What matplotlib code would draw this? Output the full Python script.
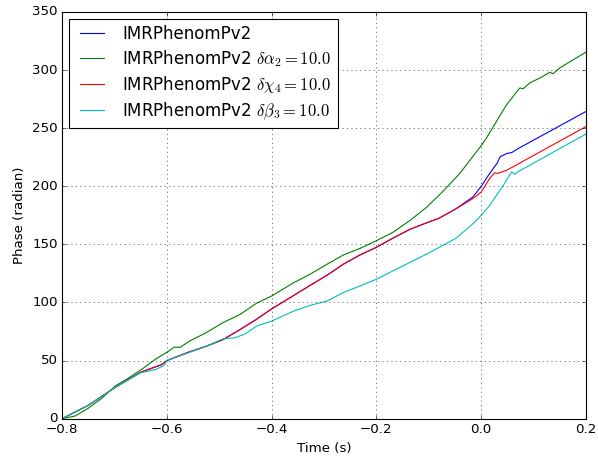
import matplotlib
matplotlib.use('Agg')
import matplotlib.pyplot as plt

# phase curves (time in s, phase in radian)
t_base = [-0.8, -0.75, -0.7, -0.65, -0.61, -0.6, -0.56, -0.525, -0.493, -0.46, -0.429,
          -0.4, -0.358, -0.326, -0.294, -0.263, -0.231, -0.2, -0.168, -0.136, -0.104,
          -0.08, -0.048, -0.016, 0.0, 0.016, 0.03, 0.036, 0.049, 0.058, 0.071, 0.2]
phase_base = [0, 11.5, 26.5, 40, 46.5, 50, 57, 62.3, 68, 76.8, 85.5,
              94.5, 106, 114.9, 123.5, 133, 141, 147.5, 155.5, 163, 168.6,
              172.6, 180.7, 190.8, 200, 211, 219.6, 225.4, 228.3, 229, 232.6, 264.4]

t_chi4 = [-0.8, -0.75, -0.7, -0.65, -0.61, -0.6, -0.56, -0.525, -0.493, -0.46, -0.429,
          -0.4, -0.358, -0.326, -0.294, -0.263, -0.231, -0.2, -0.168, -0.136, -0.104,
          -0.08, -0.048, -0.016, 0.0, 0.016, 0.0255, 0.032, 0.049, 0.2]
phase_chi4 = [0, 11.5, 26.5, 40, 46.5, 50, 57, 62.3, 68, 76.8, 85.5,
              94.5, 106, 114.9, 123.5, 133, 141, 147.5, 155.5, 163, 168.6,
              172.6, 180.7, 189.4, 195.1, 206.7, 211.6, 211.1, 213.9, 251.4]

t_alpha2 = [-0.8, -0.775, -0.75, -0.724, -0.698, -0.673, -0.647, -0.621, -0.6, -0.586,
            -0.574, -0.557, -0.525, -0.493, -0.46, -0.429, -0.4, -0.358, -0.326, -0.294,
            -0.263, -0.231, -0.2, -0.168, -0.136, -0.104, -0.073, -0.041, 0.0, 0.0096,
            0.048, 0.0735, 0.08, 0.0925, 0.112, 0.131, 0.137, 0.15, 0.176, 0.2]
phase_alpha2 = [0, 2.3, 9, 17.6, 28.3, 35, 42.8, 51.4, 57.1, 61.5,
                61.5, 66.7, 74, 82.6, 89.8, 99.3, 105.6, 117, 124.5, 133,
                140.9, 146.6, 153.2, 160.5, 170.6, 182, 195.7, 211, 235, 241.3,
                270, 284.6, 284, 288.9, 293.2, 298.2, 296.8, 301.9, 309, 315.5]

t_beta3 = [-0.8, -0.75, -0.7, -0.65, -0.62, -0.605, -0.6, -0.557, -0.525, -0.493, -0.47,
           -0.45, -0.429, -0.4, -0.358, -0.326, -0.294, -0.263, -0.231, -0.2, -0.168,
           -0.136, -0.104, -0.08, -0.048, -0.016, 0.0, 0.016, 0.042, 0.058, 0.064, 0.072, 0.2]
phase_beta3 = [0, 11.5, 26.5, 39.5, 42.5, 46, 50, 57, 62.3, 68.7, 69.7,
               73, 79.7, 84, 92.6, 97.6, 101.3, 108.6, 114.3, 120, 127.3,
               134.5, 141.7, 147.5, 155.3, 167.7, 175, 183.5, 200.8, 212.5, 210.5, 213, 245]

plt.style.use('classic')
plt.rcParams['mathtext.fontset'] = 'cm'

fig = plt.figure(figsize=(598 / 80, 459 / 80), dpi=80, facecolor='white')
ax = fig.add_subplot(111)
fig.subplots_adjust(left=0.1037, right=0.980, bottom=0.0878, top=0.9739)

ax.plot(t_base, phase_base, 'b', label='IMRPhenomPv2')
ax.plot(t_alpha2, phase_alpha2, 'g', label=r'IMRPhenomPv2 $\delta\alpha_2 = 10.0$')
ax.plot(t_chi4, phase_chi4, 'r', label=r'IMRPhenomPv2 $\delta\chi_4 = 10.0$')
ax.plot(t_beta3, phase_beta3, 'c', label=r'IMRPhenomPv2 $\delta\beta_3 = 10.0$')

ax.set_xlim(-0.8, 0.2)
ax.set_ylim(0, 350)
ax.set_xlabel('Time (s)')
ax.set_ylabel('Phase (radian)')
ax.grid(True)
ax.legend(loc='upper left', fontsize=15, labelspacing=0.3, borderaxespad=0.4)

fig.savefig('out.png', dpi=80, facecolor='white')
